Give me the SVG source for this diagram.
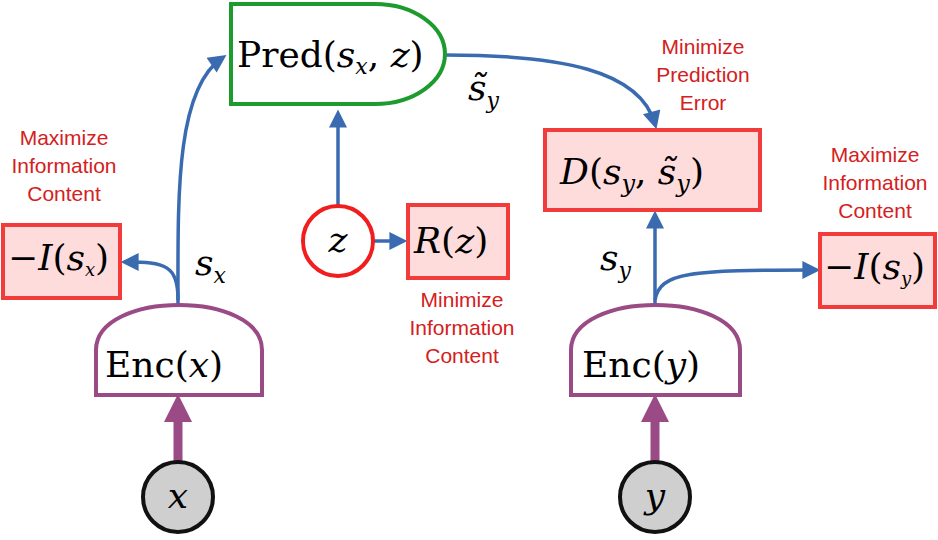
<svg xmlns="http://www.w3.org/2000/svg" width="938" height="540" viewBox="0 0 938 540">
<style>
.m{font-family:"DejaVu Serif","Liberation Serif",serif;font-size:36px;fill:#000}
.i{font-style:italic}
.lab{font-family:"Liberation Sans",Arial,sans-serif;font-size:21px;fill:#d42020;text-anchor:middle}
.box{fill:#ffdcdc;stroke:#f23c3c;stroke-width:4}
.blue{fill:none;stroke:#3a6bb0;stroke-width:3.5}
.enc{fill:#fff;stroke:#9a4a85;stroke-width:4}
</style>
<defs>
<marker id="ab" viewBox="0 0 10 10" refX="7" refY="5" markerWidth="20" markerHeight="18" markerUnits="userSpaceOnUse" orient="auto"><path d="M0,0L10,5L0,10z" fill="#3a6bb0"/></marker>
<marker id="ap" viewBox="0 0 10 10" refX="5" refY="5" markerWidth="28" markerHeight="28" markerUnits="userSpaceOnUse" orient="auto"><path d="M0,0L10,5L0,10z" fill="#9a4a85"/></marker>
</defs>
<g id="connectors">
<path class="blue" d="M178,305 C178,200 175,90 222,58" marker-end="url(#ab)"/>
<path class="blue" d="M178,300 C178,265 165,262 126,262" marker-end="url(#ab)"/>
<path class="blue" d="M338,205 L338,115" marker-end="url(#ab)"/>
<path class="blue" d="M373,241 L402,241" marker-end="url(#ab)"/>
<path class="blue" d="M445,55 C560,55 640,70 655,124" marker-end="url(#ab)"/>
<path class="blue" d="M655,305 L655,216" marker-end="url(#ab)"/>
<path class="blue" d="M655,300 C660,272 690,270 815,270" marker-end="url(#ab)"/>
<path d="M178,462 L178,408" stroke="#9a4a85" stroke-width="9" marker-end="url(#ap)"/>
<path d="M655,462 L655,408" stroke="#9a4a85" stroke-width="9" marker-end="url(#ap)"/>
</g>
<g id="pred"><path d="M231,4 L375,4 A70,50 0 0 1 375,104 L231,104 Z" fill="#fff" stroke="#1e9b2e" stroke-width="4"/>
<text x="237" y="67" class="m">Pred(<tspan class="i">s</tspan><tspan class="i" font-size="22" dy="7">x</tspan><tspan dy="-7">, </tspan><tspan class="i">z</tspan>)</text></g>
<g id="encx"><path d="M96,395 L96,350 C96,290 262,290 262,350 L262,395 Z" class="enc"/><text x="105" y="377" class="m" font-size="40">Enc(<tspan class="i">x</tspan>)</text></g>
<g id="ency"><path d="M571,395 L571,350 C571,290 740,290 740,350 L740,395 Z" class="enc"/><text x="582" y="377" class="m" font-size="40">Enc(<tspan class="i">y</tspan>)</text></g>
<g id="x"><circle cx="178" cy="497" r="35" fill="#cfcfcf" stroke="#111" stroke-width="4"/><text x="178" y="508" class="m i" text-anchor="middle">x</text></g>
<g id="y"><circle cx="655" cy="497" r="35" fill="#cfcfcf" stroke="#111" stroke-width="4"/><text x="655" y="508" class="m i" text-anchor="middle">y</text></g>
<g id="z"><circle cx="338" cy="241" r="35" fill="#fff" stroke="#f01e1e" stroke-width="4"/><text x="338" y="252" class="m i" text-anchor="middle">z</text></g>
<g id="rz"><rect x="408" y="205" width="100" height="73" class="box"/><text x="414" y="253" class="m"><tspan class="i">R</tspan>(<tspan class="i">z</tspan>)</text></g>
<g id="isx"><rect x="3" y="225" width="117" height="73" class="box"/><text x="8" y="270" class="m" font-size="28">−<tspan class="i">I</tspan>(<tspan class="i">s</tspan><tspan class="i" font-size="18" dy="6">x</tspan><tspan dy="-6">)</tspan></text></g>
<g id="isy"><rect x="820" y="234" width="115" height="73" class="box"/><text x="824" y="279" class="m" font-size="28">−<tspan class="i">I</tspan>(<tspan class="i">s</tspan><tspan class="i" font-size="18" dy="6">y</tspan><tspan dy="-6">)</tspan></text></g>
<g id="d"><rect x="545" y="130" width="215" height="80" class="box"/><text x="560" y="184" class="m" font-size="40"><tspan class="i">D</tspan>(<tspan class="i">s</tspan><tspan class="i" font-size="24" dy="8">y</tspan><tspan dy="-8">, </tspan><tspan class="i">s̃</tspan><tspan class="i" font-size="24" dy="8">y</tspan><tspan dy="-8">)</tspan></text></g>
<text x="195" y="275" class="m i">s<tspan font-size="22" dy="8">x</tspan></text>
<text x="468" y="100" class="m i">s̃<tspan font-size="22" dy="8">y</tspan></text>
<text x="600" y="270" class="m i">s<tspan font-size="22" dy="8">y</tspan></text>
<g class="lab">
<text x="64" y="145">Maximize</text><text x="64" y="173">Information</text><text x="64" y="201">Content</text>
<text x="462" y="307">Minimize</text><text x="462" y="335">Information</text><text x="462" y="363">Content</text>
<text x="703" y="54">Minimize</text><text x="703" y="82">Prediction</text><text x="703" y="110">Error</text>
<text x="875" y="162">Maximize</text><text x="875" y="190">Information</text><text x="875" y="218">Content</text>
</g>
</svg>
